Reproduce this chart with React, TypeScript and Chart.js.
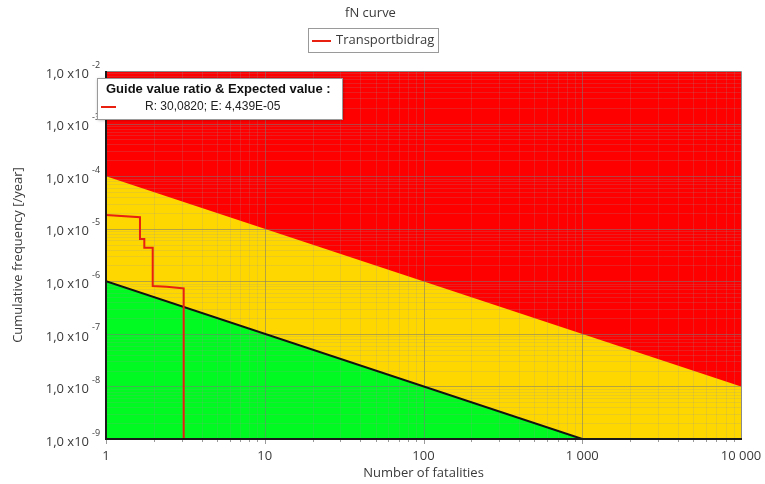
import React, { useEffect, useRef } from 'react';
import { Chart, registerables } from 'chart.js';

Chart.register(...registerables);

// ---- data ----
const titleText = 'fN curve';
const seriesName = 'Transportbidrag';
const xTitle = 'Number of fatalities';
const yTitle = 'Cumulative frequency [/year]';
const xTickValues = [1, 10, 100, 1000, 10000];
const xTickLabels = ['1', '10', '100', '1 000', '10 000'];
const yTickExponents = [-2, -3, -4, -5, -6, -7, -8, -9];
const yTickMantissa = '1,0 x10';

// stepped fN curve (N, cumulative frequency)
const curveN = [1, 1.637, 1.637, 1.743, 1.743, 1.969, 1.969, 2.412, 3.024, 3.086, 3.086];
const curveF = [1.82e-5, 1.65e-5, 6.37e-6, 6.37e-6, 4.35e-6, 4.35e-6, 8.13e-7, 7.89e-7, 7.36e-7, 7.3e-7, 1e-9];

// zone limits
const topN = [1, 10000];
const topF = [1e-2, 1e-2];
const upperLimitN = [1, 10000];
const upperLimitF = [1e-4, 1e-8];
const lowerLimitN = [1, 1000];
const lowerLimitF = [1e-6, 1e-9];

const infoTitle = 'Guide value ratio & Expected value :';
const infoText = 'R: 30,0820; E: 4,439E-05';

// ---- styles ----
const RED = 'rgb(255,0,0)';
const YELLOW = 'rgb(255,215,0)';
const GREEN = 'rgb(0,250,33)';
const CURVE = 'rgb(232,32,16)';
const FONT = '"Open Sans", "Noto Sans", sans-serif';
const TEXT = '#3a3a3a';

const pts = (xs: number[], ys: number[]) => xs.map((x, i) => ({ x, y: ys[i] }));

const fnPlugin = {
  id: 'fnDecor',
  afterDatasetDraw(chart: any, args: any) {
    if (args.index !== 2) return;
    const { ctx, chartArea: a, scales } = chart;
    const x = scales.x;
    const y = scales.y;
    ctx.save();
    ctx.beginPath();
    ctx.rect(a.left, a.top, a.right - a.left, a.bottom - a.top);
    ctx.clip();
    ctx.lineWidth = 1;
    // minor grid
    ctx.strokeStyle = 'rgba(150,150,150,0.2)';
    ctx.beginPath();
    for (let e = 0; e < 4; e++) {
      for (let m = 2; m <= 9; m++) {
        const px = Math.round(x.getPixelForValue(m * Math.pow(10, e))) + 0.5;
        ctx.moveTo(px, a.top);
        ctx.lineTo(px, a.bottom);
      }
    }
    for (let e = -9; e < -2; e++) {
      for (let m = 2; m <= 9; m++) {
        const py = Math.round(y.getPixelForValue(m * Math.pow(10, e))) + 0.5;
        ctx.moveTo(a.left, py);
        ctx.lineTo(a.right, py);
      }
    }
    ctx.stroke();
    // major grid
    ctx.strokeStyle = 'rgba(120,120,120,0.55)';
    ctx.beginPath();
    for (const v of xTickValues) {
      const px = Math.round(x.getPixelForValue(v)) + 0.5;
      ctx.moveTo(px, a.top);
      ctx.lineTo(px, a.bottom);
    }
    for (const e of yTickExponents) {
      const py = Math.round(y.getPixelForValue(Math.pow(10, e))) + 0.5;
      ctx.moveTo(a.left, py);
      ctx.lineTo(a.right, py);
    }
    ctx.stroke();
    ctx.restore();
  },
  afterDraw(chart: any) {
    const { ctx, chartArea: a, scales } = chart;
    const x = scales.x;
    const y = scales.y;
    ctx.save();
    // frame
    ctx.lineWidth = 1;
    ctx.strokeStyle = '#8a8a8a';
    ctx.beginPath();
    ctx.moveTo(a.left, a.top + 0.5);
    ctx.lineTo(a.right + 0.5, a.top + 0.5);
    ctx.lineTo(a.right + 0.5, a.bottom);
    ctx.stroke();
    ctx.lineWidth = 2;
    ctx.strokeStyle = '#1a1a1a';
    ctx.beginPath();
    ctx.moveTo(a.left, a.top);
    ctx.lineTo(a.left, a.bottom);
    ctx.lineTo(a.right + 1, a.bottom);
    ctx.stroke();
    // x minor tick marks
    ctx.lineWidth = 1;
    ctx.strokeStyle = '#9a9a9a';
    ctx.beginPath();
    for (let e = 0; e < 4; e++) {
      for (let m = 1; m <= 9; m++) {
        const px = Math.round(x.getPixelForValue(m * Math.pow(10, e))) + 0.5;
        ctx.moveTo(px, a.bottom + 1);
        ctx.lineTo(px, a.bottom + (m === 1 ? 5 : 3));
      }
    }
    ctx.stroke();
    // y tick labels with superscript exponent
    ctx.fillStyle = TEXT;
    for (const e of yTickExponents) {
      const py = y.getPixelForValue(Math.pow(10, e));
      ctx.font = `13px ${FONT}`;
      ctx.textAlign = 'right';
      ctx.textBaseline = 'middle';
      ctx.fillText(yTickMantissa, a.left - 17, py + 3);
      ctx.font = `9px ${FONT}`;
      ctx.textAlign = 'left';
      ctx.fillText(String(e), a.left - 14, py - 6);
    }
    // info box
    const bx = 97, by = 78, bw = 245, bh = 41;
    ctx.save();
    ctx.shadowColor = 'rgba(0,0,0,0.35)';
    ctx.shadowBlur = 3;
    ctx.shadowOffsetX = 1;
    ctx.shadowOffsetY = 1;
    ctx.fillStyle = '#ffffff';
    ctx.fillRect(bx, by, bw, bh);
    ctx.restore();
    ctx.lineWidth = 1;
    ctx.strokeStyle = '#9a9a9a';
    ctx.strokeRect(bx + 0.5, by + 0.5, bw, bh);
    ctx.fillStyle = '#111';
    ctx.font = `bold 13px "Liberation Sans", Arial, sans-serif`;
    ctx.textAlign = 'left';
    ctx.textBaseline = 'middle';
    ctx.fillText(infoTitle, 106, 89);
    ctx.strokeStyle = CURVE;
    ctx.lineWidth = 2;
    ctx.beginPath();
    ctx.moveTo(101, 107);
    ctx.lineTo(116, 107);
    ctx.stroke();
    ctx.fillStyle = '#222';
    ctx.font = `12px "Liberation Sans", Arial, sans-serif`;
    ctx.fillText(infoText, 145, 107);
    // top legend
    ctx.lineWidth = 1;
    ctx.strokeStyle = '#9a9a9a';
    ctx.strokeRect(308.5, 28.5, 130, 24);
    ctx.strokeStyle = CURVE;
    ctx.lineWidth = 2;
    ctx.beginPath();
    ctx.moveTo(312, 41);
    ctx.lineTo(331, 41);
    ctx.stroke();
    ctx.fillStyle = TEXT;
    ctx.font = `13px ${FONT}`;
    ctx.fillText(seriesName, 336, 40.5);
    ctx.restore();
  },
};

export default function App() {
  const ref = useRef<HTMLCanvasElement>(null);
  useEffect(() => {
    const canvas = ref.current;
    if (!canvas) return;
    const chart = new Chart(canvas, {
      type: 'line',
      data: {
        datasets: [
          {
            label: 'red zone',
            data: pts(topN, topF),
            backgroundColor: RED,
            borderWidth: 0,
            pointRadius: 0,
            fill: 'start',
            order: 5,
          },
          {
            label: 'yellow zone',
            data: pts(upperLimitN, upperLimitF),
            backgroundColor: YELLOW,
            borderWidth: 0,
            pointRadius: 0,
            fill: 'start',
            order: 4,
          },
          {
            label: 'green zone',
            data: pts(lowerLimitN, lowerLimitF),
            backgroundColor: GREEN,
            borderWidth: 0,
            pointRadius: 0,
            fill: 'start',
            order: 3,
          },
          {
            label: 'lower limit',
            data: pts(lowerLimitN, lowerLimitF),
            borderColor: '#111',
            borderWidth: 2,
            pointRadius: 0,
            fill: false,
            order: 2,
          },
          {
            label: seriesName,
            data: pts(curveN, curveF),
            borderColor: CURVE,
            borderWidth: 2,
            pointRadius: 0,
            fill: false,
            tension: 0,
            order: 1,
          },
        ],
      } as any,
      options: {
        responsive: false,
        animation: false,
        devicePixelRatio: 1,
        layout: { padding: { top: 0, left: 0, right: 24, bottom: 0 } },
        plugins: {
          legend: { display: false },
          tooltip: { enabled: false },
          title: {
            display: true,
            text: titleText,
            color: TEXT,
            font: { family: FONT, size: 13, weight: 'normal' },
            padding: { top: 5, bottom: 50.4 },
          },
        },
        scales: {
          x: {
            type: 'logarithmic',
            min: 1,
            max: 10000,
            afterBuildTicks: (s: any) => {
              s.ticks = xTickValues.map((v) => ({ value: v }));
            },
            afterFit: (s: any) => {
              s.height = 45;
              s.paddingLeft = 0;
              s.paddingRight = 0;
            },
            grid: { display: false, drawTicks: false },
            border: { display: false },
            ticks: {
              autoSkip: false,
              maxRotation: 0,
              padding: 9,
              color: TEXT,
              font: { family: FONT, size: 13 },
              callback: (_v: any, i: number) => xTickLabels[i],
            },
            title: {
              display: true,
              text: xTitle,
              color: TEXT,
              font: { family: FONT, size: 13 },
              padding: { top: 0, bottom: 3 },
            },
          },
          y: {
            type: 'logarithmic',
            min: 1e-9,
            max: 1e-2,
            afterFit: (s: any) => {
              s.width = 106;
              s.paddingTop = 0;
              s.paddingBottom = 0;
            },
            grid: { display: false, drawTicks: false },
            border: { display: false },
            ticks: { display: false },
            title: {
              display: true,
              text: yTitle,
              color: TEXT,
              font: { family: FONT, size: 13 },
              padding: { top: 10, bottom: 0 },
            },
          },
        },
      } as any,
      plugins: [fnPlugin],
    });
    return () => chart.destroy();
  }, []);
  return (
    <div style={{ position: 'fixed', left: 0, top: 0, width: 765, height: 484, background: '#fff' }}>
      <canvas ref={ref} width={765} height={484} style={{ display: 'block', width: 765, height: 484 }} />
    </div>
  );
}
